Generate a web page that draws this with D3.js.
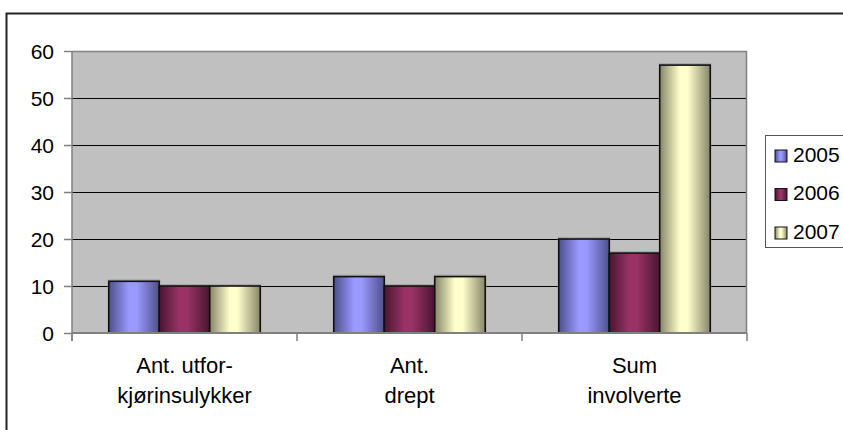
<!DOCTYPE html>
<html>
<head>
<meta charset="utf-8">
<script src="https://cdn.jsdelivr.net/npm/d3@7"></script>
<style>
  html, body { margin: 0; padding: 0; background: #fff; }
  svg { display: block; font-family: "Liberation Sans", Arial, sans-serif; }
</style>
</head>
<body>
<svg id="chart" width="843" height="430"></svg>
<script>
// Categories (two-line labels), series and their values
const categories = [
  ["Ant. utfor-", "kjørinsulykker"],
  ["Ant.", "drept"],
  ["Sum", "involverte"]
];
const seriesNames = ["2005", "2006", "2007"];
const values2005 = [11, 12, 20];
const values2006 = [10, 10, 17];
const values2007 = [10, 12, 57];
const yTicks = [0, 10, 20, 30, 40, 50, 60];

const seriesValues = [values2005, values2006, values2007];
// Cylinder-like shading: dark edge, light centre, dark edge
const seriesColors = [
  { edge: "#4f4f8c", light: "#9999ff" },
  { edge: "#4a1630", light: "#993366" },
  { edge: "#86866a", light: "#ffffcc" }
];

const svg = d3.select("#chart");
const W = 843, H = 430;
const plot = { left: 72, right: 747, top: 51, bottom: 333 };

// Outer chart frame
svg.append("rect")
  .attr("x", 6.5).attr("y", 13.5)
  .attr("width", W + 20).attr("height", H + 20)
  .attr("fill", "#fff").attr("stroke", "#222").attr("stroke-width", 2);

const defs = svg.append("defs");
seriesColors.forEach((c, i) => {
  const g = defs.append("linearGradient")
    .attr("id", "grad" + i).attr("x1", "0%").attr("x2", "100%")
    .attr("y1", "0%").attr("y2", "0%");
  g.append("stop").attr("offset", "0%").attr("stop-color", c.edge);
  g.append("stop").attr("offset", "40%").attr("stop-color", c.light);
  g.append("stop").attr("offset", "55%").attr("stop-color", c.light);
  g.append("stop").attr("offset", "100%").attr("stop-color", c.edge);
});

const x0 = d3.scaleBand()
  .domain(d3.range(categories.length))
  .range([plot.left, plot.right])
  .paddingInner(0).paddingOuter(0);
const x1 = d3.scaleBand()
  .domain(d3.range(seriesNames.length))
  .range([0, x0.bandwidth()])
  .paddingOuter(0.728).paddingInner(0);
const y = d3.scaleLinear().domain([0, 60]).range([plot.bottom, plot.top]);

// Plot background
svg.append("rect")
  .attr("x", plot.left).attr("y", plot.top)
  .attr("width", plot.right - plot.left).attr("height", plot.bottom - plot.top)
  .attr("fill", "#c0c0c0");

// Gridlines
svg.append("g").selectAll("line")
  .data(yTicks.filter(t => t > 0 && t < 60))
  .join("line")
  .attr("x1", plot.left).attr("x2", plot.right)
  .attr("y1", d => Math.round(y(d)) + 0.5).attr("y2", d => Math.round(y(d)) + 0.5)
  .attr("stroke", "#000").attr("stroke-width", 1);

// Plot border (top and right)
svg.append("path")
  .attr("d", `M${plot.left},${plot.top + 0.5}H${plot.right - 0.5}V${plot.bottom}`)
  .attr("fill", "none").attr("stroke", "#808080").attr("stroke-width", 1.5);

// Bars
const groups = svg.append("g").selectAll("g")
  .data(categories)
  .join("g")
  .attr("transform", (d, i) => `translate(${x0(i)},0)`);

groups.each(function (cat, ci) {
  const g = d3.select(this);
  const data = seriesValues.map((vals, si) => ({ si, v: vals[ci] }));
  // faint shadow behind bars
  g.selectAll("rect.shadow").data(data).join("rect")
    .attr("class", "shadow")
    .attr("x", d => x1(d.si) - 1).attr("y", d => y(d.v) - 2)
    .attr("width", x1.bandwidth() + 2).attr("height", d => y(0) - y(d.v) + 2)
    .attr("fill", "#a6a6a6");
  g.selectAll("rect.bar").data(data).join("rect")
    .attr("class", "bar")
    .attr("x", d => x1(d.si)).attr("y", d => y(d.v))
    .attr("width", x1.bandwidth()).attr("height", d => y(0) - y(d.v))
    .attr("fill", d => `url(#grad${d.si})`)
    .attr("stroke", "#111").attr("stroke-width", 1.6);
});

// Y axis
const yAxis = d3.axisLeft(y).tickValues(yTicks).tickSize(8).tickPadding(10);
const ya = svg.append("g")
  .attr("transform", `translate(${plot.left},0)`)
  .call(yAxis);
ya.attr("font-size", null).attr("font-family", null);
ya.select(".domain").attr("stroke", "#808080").attr("stroke-width", 1.5)
  .attr("d", `M0,${plot.top}V${plot.bottom + 8}`);
ya.selectAll(".tick line").attr("stroke", "#808080").attr("stroke-width", 1.5);
ya.selectAll(".tick text")
  .attr("font-size", 21).attr("fill", "#000")
  .attr("dy", "0.36em");

// X axis line and category separators
svg.append("line")
  .attr("x1", plot.left).attr("x2", plot.right)
  .attr("y1", plot.bottom).attr("y2", plot.bottom)
  .attr("stroke", "#808080").attr("stroke-width", 2);
svg.append("g").selectAll("line")
  .data(d3.range(categories.length + 1))
  .join("line")
  .attr("x1", i => plot.left + i * x0.bandwidth())
  .attr("x2", i => plot.left + i * x0.bandwidth())
  .attr("y1", plot.bottom).attr("y2", plot.bottom + 8)
  .attr("stroke", "#808080").attr("stroke-width", 1.5);

// Category labels
svg.append("g").selectAll("text")
  .data(categories)
  .join("text")
  .attr("x", (d, i) => x0(i) + x0.bandwidth() / 2)
  .attr("y", 373)
  .attr("text-anchor", "middle")
  .attr("font-size", 22)
  .attr("fill", "#000")
  .each(function (d) {
    d3.select(this).selectAll("tspan").data(d).join("tspan")
      .attr("x", d3.select(this).attr("x"))
      .attr("dy", (t, j) => j === 0 ? 0 : 30)
      .text(t => t);
  });

// Legend
const legend = svg.append("g");
legend.append("rect")
  .attr("x", 765.5).attr("y", 135.5)
  .attr("width", 100).attr("height", 112)
  .attr("fill", "#fff").attr("stroke", "#555").attr("stroke-width", 1);
const items = legend.selectAll("g.item")
  .data(seriesNames)
  .join("g").attr("class", "item")
  .attr("transform", (d, i) => `translate(775,${150 + i * 38.5})`);
items.append("rect")
  .attr("width", 12).attr("height", 12)
  .attr("fill", (d, i) => `url(#grad${i})`)
  .attr("stroke", "#111").attr("stroke-width", 1);
items.append("text")
  .attr("x", 18).attr("y", 11.5)
  .attr("font-size", 21).attr("fill", "#000")
  .text(d => d);
</script>
</body>
</html>
